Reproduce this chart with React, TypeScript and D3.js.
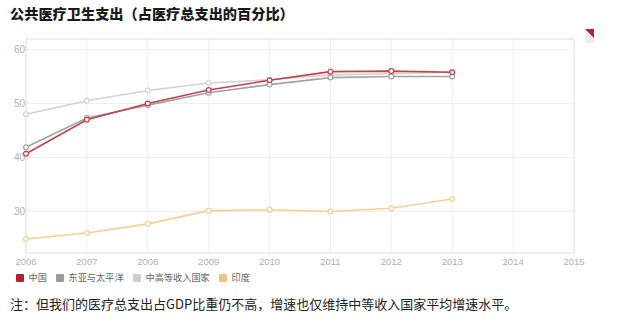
import React from "react";
import * as d3 from "d3";

const years = [2006, 2007, 2008, 2009, 2010, 2011, 2012, 2013];
const xTicks = [2006, 2007, 2008, 2009, 2010, 2011, 2012, 2013, 2014, 2015];
const yTicks = [30, 40, 50, 60];

const china = [40.7, 47.0, 50.0, 52.5, 54.3, 55.9, 56.0, 55.8];
const eastAsia = [41.9, 47.3, 49.7, 52.0, 53.5, 54.8, 55.0, 55.0];
const upperMiddle = [48.0, 50.5, 52.4, 53.8, 54.4, 55.3, 55.5, 55.8];
const india = [24.9, 26.0, 27.7, 30.15, 30.3, 30.0, 30.6, 32.3];

const seriesNames = ["中国", "东亚与太平洋", "中高等收入国家", "印度"];
const lineColors = ["#c4404a", "#a3a3a3", "#d2d2d2", "#f2d196"];
const legendColors = ["#b3232b", "#9b9b9b", "#cdcdcd", "#ebc683"];

const title = "公共医疗卫生支出（占医疗总支出的百分比）";
const note = "注：但我们的医疗总支出占GDP比重仍不高，增速也仅维持中等收入国家平均增速水平。";

const W = 626;
const H = 321;
const latin = "'Liberation Sans', Arial, 'Noto Sans CJK SC', sans-serif";
const cjk = "'Noto Sans CJK SC', 'Liberation Sans', sans-serif";

export default function App() {
  const x = d3.scaleLinear().domain([2006, 2015]).range([26, 574]);
  const y = d3.scaleLinear().domain([22.3, 61.95]).range([253, 39]);
  const line = d3
    .line<number>()
    .x((_, i) => x(years[i]))
    .y((d) => y(d));

  const allSeries = [china, eastAsia, upperMiddle, india];
  const drawOrder = [3, 2, 1, 0];
  const legendX = [16, 56, 133, 219];

  return (
    <svg
      width={W}
      height={H}
      style={{ position: "absolute", left: 0, top: 0, background: "#fff" }}
    >
      <text x={10} y={18.5} fontFamily={cjk} fontWeight="900" fontSize={14.2} fill="#1a1a1a">
        {title}
      </text>

      {/* corner icon */}
      <polygon points="585,29 594,38 594,43 585,43" fill="#ececec" />
      <polygon points="585,29 594,29 594,38" fill="#b3232b" />

      {/* grid */}
      {yTicks.map((t) => (
        <line key={"gy" + t} x1={x(2006)} x2={x(2015)} y1={y(t)} y2={y(t)} stroke="#efefef" strokeWidth={1} />
      ))}
      {xTicks.map((t) => (
        <line key={"gx" + t} x1={x(t)} x2={x(t)} y1={y.range()[1]} y2={y.range()[0]} stroke="#efefef" strokeWidth={1} />
      ))}
      <rect
        x={x(2006)}
        y={y.range()[1]}
        width={x(2015) - x(2006)}
        height={y.range()[0] - y.range()[1]}
        fill="none"
        stroke="#e6e6e6"
        strokeWidth={1.2}
      />

      {/* y labels */}
      {yTicks.map((t) => (
        <text key={"ly" + t} x={25} y={y(t) + 3.5} textAnchor="end" fontFamily={latin} fontSize={10} fill="#b0b0b0">
          {t}
        </text>
      ))}
      {/* x labels */}
      {xTicks.map((t) => (
        <text key={"lx" + t} x={x(t)} y={265} textAnchor="middle" fontFamily={latin} fontSize={9.5} fill="#b0b0b0">
          {t}
        </text>
      ))}

      {/* lines */}
      {drawOrder.map((si) => (
        <g key={"s" + si}>
          <path d={line(allSeries[si]) || ""} fill="none" stroke={lineColors[si]} strokeWidth={1.6} />
          {allSeries[si].map((v, i) => (
            <circle key={i} cx={x(years[i])} cy={y(v)} r={2.4} fill="#fff" stroke={lineColors[si]} strokeWidth={1.2} />
          ))}
        </g>
      ))}

      {/* legend */}
      {seriesNames.map((n, i) => (
        <g key={"lg" + i}>
          <rect x={legendX[i]} y={274} width={8} height={8} rx={1} fill={legendColors[i]} />
          <text x={legendX[i] + 12.5} y={281.3} fontFamily={cjk} fontSize={9.2} fill="#666">
            {n}
          </text>
        </g>
      ))}

      <text x={10} y={309} fontFamily={cjk} fontSize={13} fill="#222">
        {note}
      </text>
    </svg>
  );
}
